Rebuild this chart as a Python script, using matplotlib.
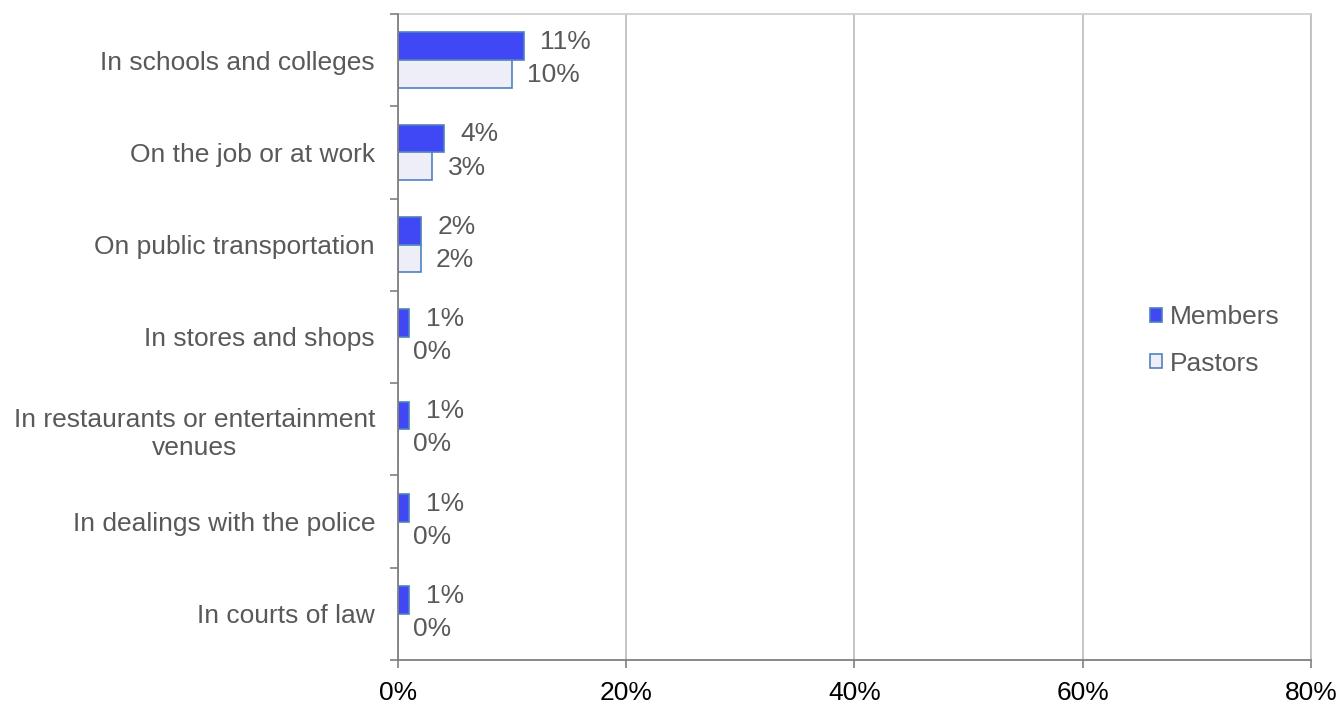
import numpy as np
import matplotlib.pyplot as plt
from matplotlib.ticker import FuncFormatter, FixedLocator

plt.rcParams['font.family'] = ['Liberation Sans', 'DejaVu Sans']

categories = [
    'In schools and colleges',
    'On the job or at work',
    'On public transportation',
    'In stores and shops',
    'In restaurants or entertainment\nvenues',
    'In dealings with the police',
    'In courts of law',
]
members = [11, 4, 2, 1, 1, 1, 1]
pastors = [10, 3, 2, 0, 0, 0, 0]
x_ticks = [0, 20, 40, 60, 80]

TEXT = '#595959'
MEMBER_FILL = '#3F48F4'
PASTOR_FILL = '#EEEEF8'
EDGE = '#4F81BD'
FS = 19


def draw_chart():
    fig = plt.figure(figsize=(13.41, 7.06), dpi=100)
    ax = fig.add_axes([0.2968, 0.0652, 0.6808, 0.915])

    y = np.arange(len(categories))
    h = 0.3
    ax.barh(y - h / 2, members, height=h, color=MEMBER_FILL, edgecolor=EDGE,
            linewidth=1.2, label='Members', zorder=3)
    ax.barh(y + h / 2, pastors, height=h, color=PASTOR_FILL, edgecolor=EDGE,
            linewidth=1.2, label='Pastors', zorder=3)

    for yi, m, p in zip(y, members, pastors):
        ax.annotate(f'{m}%', (m, yi - h / 2), xytext=(12, 3), textcoords='offset points',
                    ha='left', va='center', fontsize=FS, color=TEXT)
        ax.annotate(f'{p}%', (p, yi + h / 2), xytext=(11, -1), textcoords='offset points',
                    ha='left', va='center', fontsize=FS, color=TEXT)

    ax.set_xlim(0, 80)
    ax.set_ylim(len(categories) - 0.5, -0.5)
    ax.set_xticks(x_ticks)
    ax.xaxis.set_major_formatter(FuncFormatter(lambda v, _: f'{v:.0f}%'))
    ax.set_yticks(y)
    ax.set_yticklabels(categories, ha='right', multialignment='center')
    ax.yaxis.set_minor_locator(FixedLocator(np.arange(len(categories) + 1) - 0.5))

    ax.tick_params(axis='y', which='major', length=0, pad=16.5, labelsize=FS, labelcolor=TEXT)
    ax.tick_params(axis='y', which='minor', length=6, width=1.2, color='#808080', direction='out')
    ax.tick_params(axis='x', length=6, width=1.2, color='#808080', pad=9,
                   labelsize=FS, labelcolor='black')

    ax.grid(axis='x', color='#C0C0C0', linewidth=1.3, zorder=0)
    for side in ('left', 'bottom'):
        ax.spines[side].set_color('#808080')
        ax.spines[side].set_linewidth(1.3)
    ax.spines['top'].set_color('#D0D0D0')
    ax.spines['top'].set_linewidth(1.3)
    ax.spines['right'].set_color('#C0C0C0')
    ax.spines['right'].set_linewidth(1.3)
    ax.spines['left'].set_zorder(4)

    ax.legend(loc='center left', bbox_to_anchor=(0.84, 0.518), bbox_transform=fig.transFigure,
              frameon=False, fontsize=FS, labelcolor=TEXT, handlelength=0.45,
              handleheight=0.45, handletextpad=0.3, labelspacing=0.85)

    fig.savefig('out.png', dpi=100)


if __name__ == '__main__':
    draw_chart()
